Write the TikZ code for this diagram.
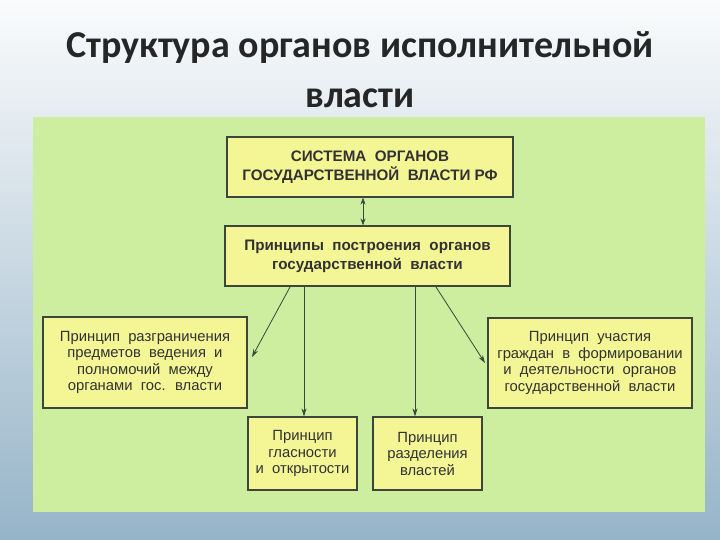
\documentclass[tikz,border=0pt]{standalone}
\usepackage{fontspec}
\setmainfont{Liberation Sans}
\newfontfamily\titlefont{Carlito}
\usetikzlibrary{arrows.meta}
\definecolor{bgtop}{RGB}{250,251,252}
\definecolor{bgbot}{RGB}{150,180,200}
\definecolor{panel}{RGB}{204,238,158}
\definecolor{boxfill}{RGB}{244,246,150}
\definecolor{txt}{RGB}{50,50,50}
\definecolor{ln}{RGB}{60,70,60}
\begin{document}
\begin{tikzpicture}[x=1pt,y=-1pt,
  bx/.style={draw=ln,line width=1.2pt,fill=boxfill,text=txt,align=center,inner sep=0pt,font=\fontsize{14.8}{16.5}\selectfont},
  arr/.style={draw=ln,line width=0.8pt,-{Stealth[length=8pt,width=5pt]}}]
\useasboundingbox (0,0) rectangle (720,540);
\shade[top color=bgtop,bottom color=bgbot] (0,0) rectangle (720,540);
\node[font=\titlefont\bfseries\fontsize{38}{50}\selectfont,align=center,text=black!85] (title) at (360,70) {Структура органов исполнительной\\власти};
\fill[panel] (33,117) rectangle (705,512);
\node[bx,minimum width=286pt,minimum height=60pt,font=\bfseries\fontsize{15.2}{19}\selectfont] (sys) at (370,167) {СИСТЕМА \ ОРГАНОВ\\ГОСУДАРСТВЕННОЙ \ ВЛАСТИ РФ};
\node[bx,minimum width=285pt,minimum height=60pt,font=\bfseries\fontsize{15.2}{19}\selectfont] (pr) at (367.5,256) {Принципы \ построения \ органов\\государственной \ власти};
\node[bx,minimum width=204pt,minimum height=91pt] (l) at (145,362.5) {Принцип \ разграничения\\предметов \ ведения \ и\\полномочий \ между\\органами \ гос. \ власти};
\node[bx,minimum width=204pt,minimum height=90pt] (r) at (590,363) {Принцип \ участия\\граждан \ в \ формировании\\и \ деятельности \ органов\\государственной \ власти};
\node[bx,minimum width=109pt,minimum height=73pt] (b1) at (302.5,453.5) {Принцип\\гласности\\и \ открытости};
\node[bx,minimum width=109pt,minimum height=73pt] (b2) at (427.5,453.5) {Принцип\\разделения\\властей};
\draw[draw=ln,line width=0.8pt,{Stealth[length=7pt,width=5pt]}-{Stealth[length=7pt,width=5pt]}] (sys.south -| 363,0) -- (pr.north -| 363,0);
\coordinate (a1) at (290,287); \coordinate (e1) at (252,357);
\coordinate (a4) at (436,287); \coordinate (e4) at (485,363);
\draw[arr] (a1) -- (e1);
\draw[arr] (pr.south -| 304,0) -- (b1.north -| 304,0);
\draw[arr] (pr.south -| 415,0) -- (b2.north -| 415,0);
\draw[arr] (a4) -- (e4);
\end{tikzpicture}
\end{document}
